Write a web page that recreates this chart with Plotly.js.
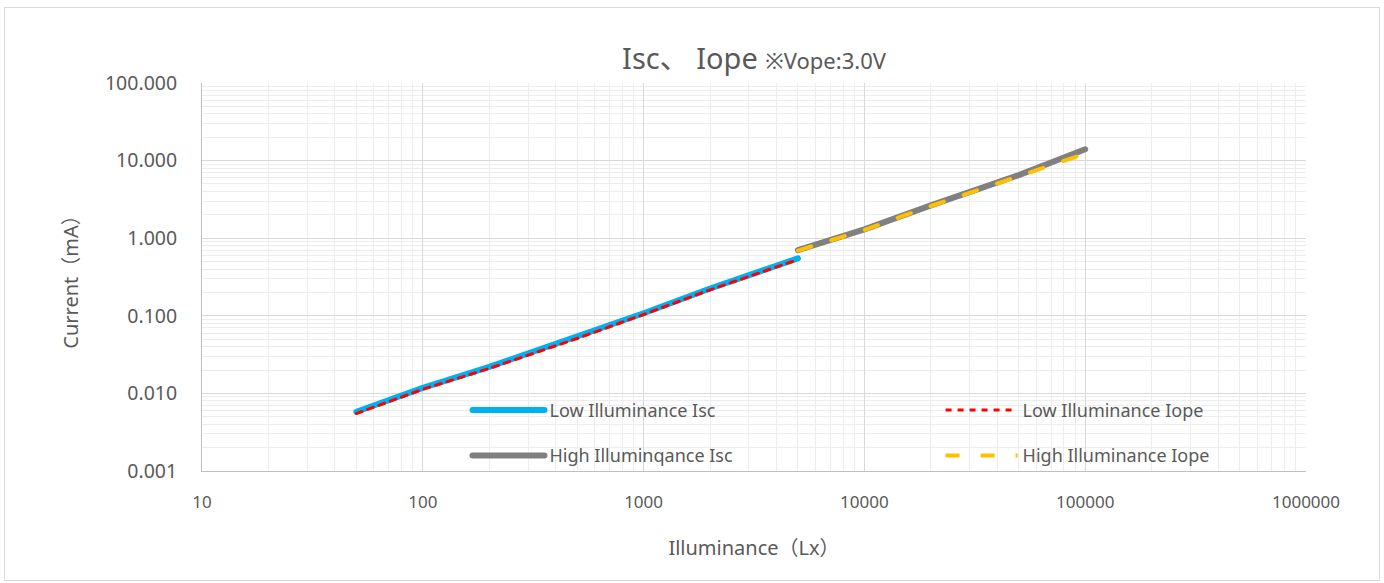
<!DOCTYPE html>
<html>
<head>
<meta charset="utf-8">
<script src="https://cdn.plot.ly/plotly-3.0.1.min.js"></script>
<style>
  html, body { margin: 0; padding: 0; background: #ffffff; }
  #chart { position: absolute; left: 4px; top: 7px; width: 1374px; height: 572px; border: 1px solid #D9D9D9; }
  .scatterlayer path.js-line, .legend path.js-line, .legend path { stroke-linecap: round; stroke-linejoin: round; }
</style>
</head>
<body>
<div id="chart"></div>
<script>
// Data
const luxLow = [50, 100, 200, 500, 1000, 2000, 5000];
const iscLow = [0.0058, 0.0118, 0.022, 0.053, 0.108, 0.225, 0.55];
const iopeLow = [0.0055, 0.0113, 0.021, 0.051, 0.104, 0.216, 0.53];

const luxHigh = [5000, 10000, 20000, 50000, 100000];
const iscHigh = [0.70, 1.30, 2.65, 6.5, 14.0];
const iopeHigh = [0.69, 1.28, 2.60, 6.2, 12.3];

const seriesNames = ["Low Illuminance Isc", "Low Illuminance Iope", "High Illuminqance Isc", "High Illuminance Iope"];
const xTickVals = [10, 100, 1000, 10000, 100000, 1000000];
const xTickText = ["10", "100", "1000", "10000", "100000", "1000000"];
const yTickVals = [0.001, 0.01, 0.1, 1, 10, 100];
const yTickText = ["0.001", "0.010", "0.100", "1.000", "10.000", "100.000"];

const FONT = "'Noto Sans', 'Noto Sans CJK JP', sans-serif";
const TXT = "#595959";

const traces = [
  { x: luxLow, y: iscLow, name: seriesNames[0], mode: "lines", legend: "legend", legendgroup: "a",
    line: { color: "#00B0F0", width: 6 } },
  { x: luxLow, y: iopeLow, name: seriesNames[1], mode: "lines", legend: "legend2", legendgroup: "b",
    line: { color: "#FF0000", width: 3, dash: "6px,6px" } },
  { x: luxHigh, y: iscHigh, name: seriesNames[2], mode: "lines", legend: "legend", legendgroup: "c",
    line: { color: "#808080", width: 6 } },
  { x: luxHigh, y: iopeHigh, name: seriesNames[3], mode: "lines", legend: "legend2", legendgroup: "d",
    line: { color: "#FFC000", width: 4, dash: "14px,21px" } }
];

const legendCommon = {
  orientation: "v", xanchor: "left", yanchor: "top",
  bgcolor: "rgba(0,0,0,0)", borderwidth: 0,
  font: { family: FONT, size: 18, color: TXT },
  itemwidth: 72, tracegroupgap: 19, traceorder: "grouped",
  itemclick: false
};

const layout = {
  width: 1374, height: 572,
  margin: { l: 197, r: 73, t: 75, b: 109 },
  paper_bgcolor: "#ffffff", plot_bgcolor: "#ffffff",
  font: { family: FONT, color: TXT },
  title: {
    text: "Isc、 Iope <span style='font-size:22px'>※Vope:3.0V</span>",
    font: { family: FONT, size: 29, color: TXT },
    x: 0.5, xanchor: "center", xref: "paper",
    y: 0.911, yanchor: "middle", yref: "container"
  },
  xaxis: {
    type: "log", range: [1, 6],
    tickvals: xTickVals, ticktext: xTickText,
    tickfont: { family: FONT, size: 17, color: TXT },
    ticks: "", ticklabelstandoff: 16,
    showgrid: true, gridcolor: "#D9D9D9", gridwidth: 1,
    minor: { showgrid: true, gridcolor: "#EDEDED", gridwidth: 1, dtick: "D1" },
    showline: true, linecolor: "#BFBFBF", linewidth: 1, mirror: false,
    zeroline: false,
    title: { text: "Illuminance（Lx）", font: { family: FONT, size: 20, color: TXT }, standoff: 28 }
  },
  yaxis: {
    type: "log", range: [-3, 2],
    tickvals: yTickVals, ticktext: yTickText,
    tickfont: { family: FONT, size: 19.5, color: TXT },
    ticks: "", ticklabelstandoff: 20,
    showgrid: true, gridcolor: "#D9D9D9", gridwidth: 1,
    minor: { showgrid: true, gridcolor: "#EDEDED", gridwidth: 1, dtick: "D1" },
    showline: true, linecolor: "#BFBFBF", linewidth: 1, mirror: false,
    zeroline: false,
    title: { text: "Current（mA）", font: { family: FONT, size: 20, color: TXT }, standoff: 20 }
  },
  showlegend: true,
  legend: Object.assign({}, legendCommon, { x: 0.2405, y: 0.204 }),
  legend2: Object.assign({}, legendCommon, { x: 0.669, y: 0.204 })
};

Plotly.newPlot("chart", traces, layout, { displayModeBar: false, staticPlot: true });
</script>
</body>
</html>
